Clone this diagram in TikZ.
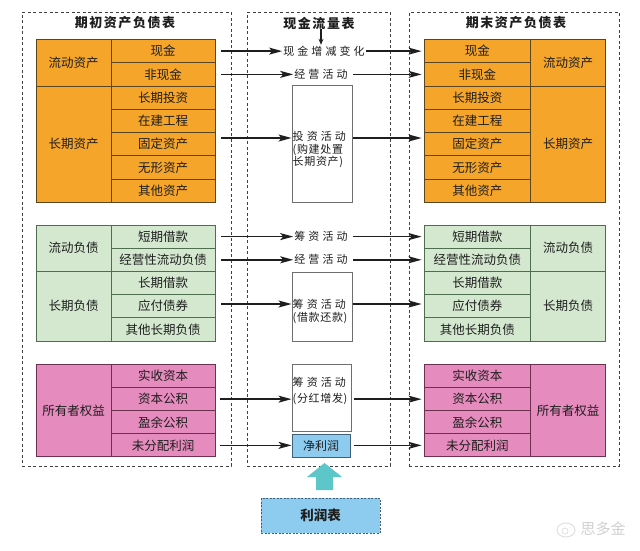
\documentclass[tikz,border=0pt]{standalone}
\usepackage{fontspec}
\setmainfont{Noto Sans CJK SC}
\newfontfamily\midf{Noto Sans CJK SC}[LetterSpace=28]
\newfontfamily\midt{Noto Sans CJK SC}[LetterSpace=6]
\newfontfamily\titf{Noto Sans CJK SC}[LetterSpace=12]
\usetikzlibrary{arrows.meta,calc}
\definecolor{orfill}{HTML}{F5A52A}
\definecolor{orline}{HTML}{5A4520}
\definecolor{grfill}{HTML}{D4E8D0}
\definecolor{grline}{HTML}{4F6E4F}
\definecolor{pkfill}{HTML}{E68BBD}
\definecolor{pkline}{HTML}{6E3050}
\definecolor{blfill}{HTML}{8DCBEF}
\definecolor{blline}{HTML}{3F5F7A}
\definecolor{cyarrow}{HTML}{5CC6C8}
\definecolor{boxline}{HTML}{6E6E6E}
\definecolor{ink}{HTML}{1E1E1E}
\begin{document}
\begin{tikzpicture}[x=1pt,y=-1pt,
  cellbase/.style={draw, line width=0.9pt, inner sep=0pt, text=ink,
    font=\fontsize{12.5}{14}\selectfont},
  ocell/.style={cellbase, fill=orfill, draw=orline},
  gcell/.style={cellbase, fill=grfill, draw=grline},
  pcell/.style={cellbase, fill=pkfill, draw=pkline},
  dbox/.style={draw=black!75, line width=0.8pt, dash pattern=on 3pt off 2.5pt, inner sep=0pt},
  titletxt/.style={font=\titf\bfseries\fontsize{13}{15}\selectfont, text=ink, inner sep=0pt},
  midtxt/.style={font=\midf\fontsize{11}{12.5}\selectfont, text=ink, inner sep=1pt},
  wbox/.style={draw=boxline, line width=1pt, fill=white, inner sep=0pt},
  boxtxt/.style={font=\fontsize{11}{12.5}\selectfont, text=ink, inner sep=0pt, align=left, anchor=north west},
  arr/.style={draw=ink, line width=1.4pt, -{Stealth[length=13pt,width=7pt,inset=3pt]}},
  arrsmall/.style={draw=ink, line width=1.2pt, -{Stealth[length=6pt,width=5pt]}}
]
\useasboundingbox (0,0) rectangle (640,550);
\fill[white] (0,0) rectangle (640,550);

% dashed panels
\node[dbox, minimum width=209pt, minimum height=454pt] (D1) at (126.5,239) {};
\node[dbox, minimum width=143pt, minimum height=454pt] (D2) at (318.5,239) {};
\node[dbox, minimum width=210pt, minimum height=454pt] (D3) at (514,239) {};

% titles
\node[titletxt] (T1) at (125,23) {期初资产负债表};
\node[titletxt] (T2) at (319,23) {现金流量表};
\node[titletxt] (T3) at (516,23) {期末资产负债表};

% ---------- left tables ----------
\foreach \t [count=\i] in {现金,非现金,长期投资,在建工程,固定资产,无形资产,其他资产}
  \node[ocell, minimum width=104pt, minimum height=23.25pt] (lo\i) at (163,27.875+23.25*\i) {\t};
\node[ocell, minimum width=75pt, minimum height=46.5pt] (loa) at (73.5,62.75) {流动资产};
\node[ocell, minimum width=75pt, minimum height=116.25pt] (lob) at (73.5,144.125) {长期资产};

\foreach \t [count=\i] in {短期借款,经营性流动负债,长期借款,应付债券,其他长期负债}
  \node[gcell, minimum width=104pt, minimum height=23.2pt] (lg\i) at (163,213.4+23.2*\i) {\t};
\node[gcell, minimum width=75pt, minimum height=46.4pt] (lga) at (73.5,248.2) {流动负债};
\node[gcell, minimum width=75pt, minimum height=69.6pt] (lgb) at (73.5,306.2) {长期负债};

\foreach \t [count=\i] in {实收资本,资本公积,盈余公积,未分配利润}
  \node[pcell, minimum width=104pt, minimum height=23.1pt] (lp\i) at (163,352.95+23.1*\i) {\t};
\node[pcell, minimum width=75pt, minimum height=92.4pt] (lpa) at (73.5,410.7) {所有者权益};

% ---------- right tables ----------
\foreach \t [count=\i] in {现金,非现金,长期投资,在建工程,固定资产,无形资产,其他资产}
  \node[ocell, minimum width=106.7pt, minimum height=23.25pt] (ro\i) at (477.35,27.875+23.25*\i) {\t};
\node[ocell, minimum width=75pt, minimum height=46.5pt] (roa) at (568.2,62.75) {流动资产};
\node[ocell, minimum width=75pt, minimum height=116.25pt] (rob) at (568.2,144.125) {长期资产};

\foreach \t [count=\i] in {短期借款,经营性流动负债,长期借款,应付债券,其他长期负债}
  \node[gcell, minimum width=106.7pt, minimum height=23.2pt] (rg\i) at (477.35,213.4+23.2*\i) {\t};
\node[gcell, minimum width=75pt, minimum height=46.4pt] (rga) at (568.2,248.2) {流动负债};
\node[gcell, minimum width=75pt, minimum height=69.6pt] (rgb) at (568.2,306.2) {长期负债};

\foreach \t [count=\i] in {实收资本,资本公积,盈余公积,未分配利润}
  \node[pcell, minimum width=106.7pt, minimum height=23.1pt] (rp\i) at (477.35,352.95+23.1*\i) {\t};
\node[pcell, minimum width=75pt, minimum height=92.4pt] (rpa) at (568.2,410.7) {所有者权益};

% ---------- middle column ----------
\node[midtxt] (cf1) at (324,51.125) {现金增减变化};
\node[midtxt] (op1) at (321,74.375) {经营活动};
\node[wbox, minimum width=60pt, minimum height=117pt] (inv) at (322,143.5) {};
\node[boxtxt] (invt) at (292.5,131.5) {{\midf 投资活动}\\{\midt (购建处置}\\{\midt 长期资产)}};

\node[midtxt] (fi1) at (321,236.6) {筹资活动};
\node[midtxt] (op2) at (321,259.8) {经营活动};
\node[wbox, minimum width=60pt, minimum height=69pt] (loan) at (322,306.5) {};
\node[boxtxt] (loant) at (292.5,299) {{\midf 筹资活动}\\{\midt (借款还款)}};

\node[wbox, minimum width=59pt, minimum height=67pt] (div) at (321.5,397.5) {};
\node[boxtxt, font=\fontsize{11}{16}\selectfont] (divt) at (292.5,377) {{\midf 筹资活动}\\{\midt (分红增发)}};
\node[draw=blline, line width=1pt, fill=blfill, inner sep=0pt, minimum width=58pt, minimum height=23.3pt,
  font=\fontsize{12}{14}\selectfont, text=ink] (np) at (321,445.65) {净利润};

\node[draw=blline, line width=0.9pt, dash pattern=on 2pt off 1.5pt, fill=blfill, inner sep=0pt,
  minimum width=119pt, minimum height=35pt, font=\bfseries\fontsize{13.5}{15}\selectfont, text=ink] (lr) at (320.5,515.5) {利润表};

% ---------- connectors ----------
\draw[arrsmall] (T2.south -| 321,0) -- (cf1.north -| 321,0);

\draw[arr, shorten <=6pt] (lo1.east) -- (lo1.east -| cf1.west);
\draw[arr, shorten >=2pt] (cf1.east) -- (cf1.east -| ro1.west);
\draw[arr, shorten <=6pt] (lo2.east) -- (lo2.east -| op1.west);
\draw[arr, shorten <=4pt, shorten >=2pt] (op1.east) -- (op1.east -| ro2.west);
\coordinate (ya) at (0,138);
\draw[arr, shorten <=6pt] (lo5.east |- ya) -- (inv.west |- ya);
\draw[arr, shorten >=2pt] (inv.east |- ya) -- (ro5.west |- ya);

\draw[arr, shorten <=6pt] (lg1.east) -- (lg1.east -| fi1.west);
\draw[arr, shorten <=4pt, shorten >=2pt] (fi1.east) -- (fi1.east -| rg1.west);
\draw[arr, shorten <=6pt] (lg2.east) -- (lg2.east -| op2.west);
\draw[arr, shorten <=4pt, shorten >=2pt] (op2.east) -- (op2.east -| rg2.west);
\coordinate (yb) at (0,304);
\draw[arr, shorten <=6pt] (lg4.east |- yb) -- (loan.west |- yb);
\draw[arr, shorten >=2pt] (loan.east |- yb) -- (rg4.west |- yb);

\draw[arr, shorten <=5pt] (lp2.east) -- (lp2.east -| div.west);
\draw[arr, shorten <=2pt, shorten >=2pt] (div.east |- lp2.east) -- (rp2.west);
\draw[arr, shorten <=5pt] (lp4.east) -- (lp4.east -| np.west);
\draw[arr, shorten <=3pt, shorten >=2pt] (np.east |- lp4.east) -- (rp4.west);

% block arrow from 利润表 up to 净利润
\coordinate (at) at (324.5,463);
\coordinate (ab) at (324.5,490);
\fill[cyarrow] ($(ab)+(-8.5,0)$) -- ($(ab)+(8.5,0)$) -- ($(at)+(8.5,14)$) -- ($(at)+(17.5,14)$)
  -- (at) -- ($(at)+(-17.5,14)$) -- ($(at)+(-8.5,14)$) -- cycle;

% watermark
\draw[black!12, line width=1pt] (566,530) ellipse (9pt and 7pt);
\draw[black!12, line width=0.8pt] (565,531) circle (3pt);
\node[text=black!18, font=\fontsize{15}{16}\selectfont, inner sep=0pt] (wm) at (603,529) {思多金};
\end{tikzpicture}
\end{document}
